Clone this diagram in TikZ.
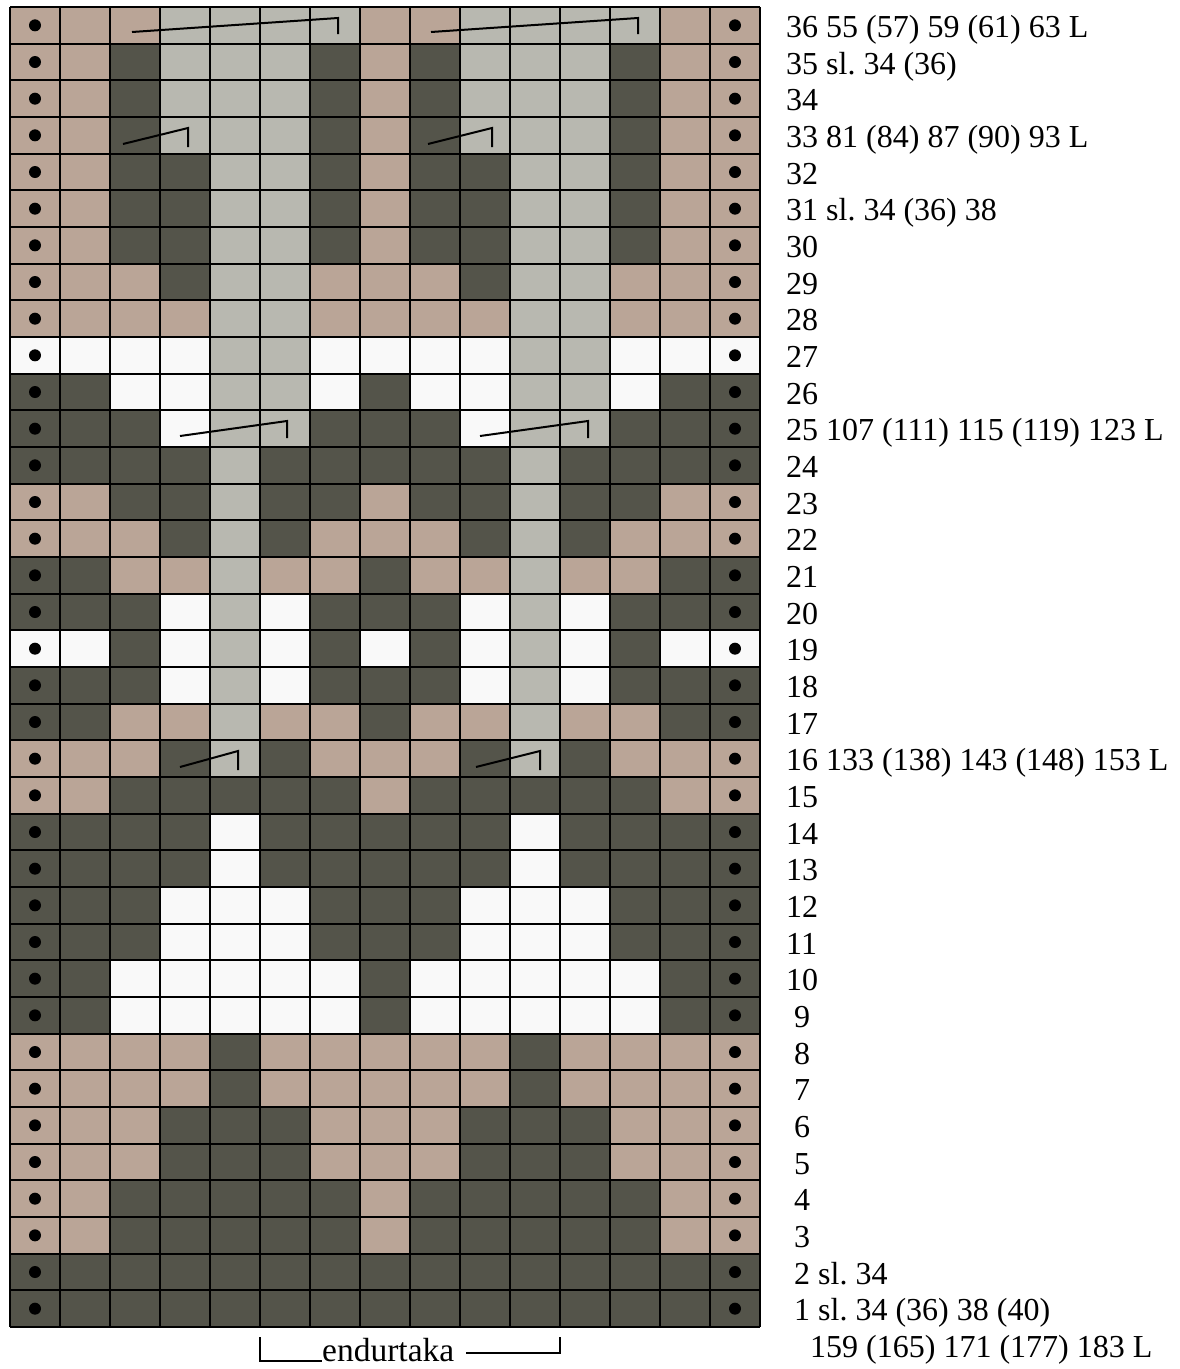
\documentclass[tikz,border=0pt]{standalone}
\usepackage{fontspec}
\setmainfont{Liberation Serif}
\frenchspacing
\definecolor{cT}{RGB}{186,165,151}
\definecolor{cD}{RGB}{84,84,74}
\definecolor{cG}{RGB}{184,184,176}
\definecolor{cW}{RGB}{249,249,249}
\tikzset{
  lab/.style={anchor=base west, inner sep=0pt, font=\fontsize{32}{38}\selectfont},
  decmark/.style={draw=black, line width=2pt},
  brk/.style={draw=black, line width=1.8pt}
}
\begin{document}
\begin{tikzpicture}[x=1pt,y=-1pt]
\useasboundingbox[fill=white] (0,0) rectangle (1179,1369);
\def\rh{36.6667}
\foreach \r/\row in {
36/{T,T,T,G,G,G,G,T,T,G,G,G,G,T,T},
35/{T,T,D,G,G,G,D,T,D,G,G,G,D,T,T},
34/{T,T,D,G,G,G,D,T,D,G,G,G,D,T,T},
33/{T,T,D,G,G,G,D,T,D,G,G,G,D,T,T},
32/{T,T,D,D,G,G,D,T,D,D,G,G,D,T,T},
31/{T,T,D,D,G,G,D,T,D,D,G,G,D,T,T},
30/{T,T,D,D,G,G,D,T,D,D,G,G,D,T,T},
29/{T,T,T,D,G,G,T,T,T,D,G,G,T,T,T},
28/{T,T,T,T,G,G,T,T,T,T,G,G,T,T,T},
27/{W,W,W,W,G,G,W,W,W,W,G,G,W,W,W},
26/{D,D,W,W,G,G,W,D,W,W,G,G,W,D,D},
25/{D,D,D,W,G,G,D,D,D,W,G,G,D,D,D},
24/{D,D,D,D,G,D,D,D,D,D,G,D,D,D,D},
23/{T,T,D,D,G,D,D,T,D,D,G,D,D,T,T},
22/{T,T,T,D,G,D,T,T,T,D,G,D,T,T,T},
21/{D,D,T,T,G,T,T,D,T,T,G,T,T,D,D},
20/{D,D,D,W,G,W,D,D,D,W,G,W,D,D,D},
19/{W,W,D,W,G,W,D,W,D,W,G,W,D,W,W},
18/{D,D,D,W,G,W,D,D,D,W,G,W,D,D,D},
17/{D,D,T,T,G,T,T,D,T,T,G,T,T,D,D},
16/{T,T,T,D,G,D,T,T,T,D,G,D,T,T,T},
15/{T,T,D,D,D,D,D,T,D,D,D,D,D,T,T},
14/{D,D,D,D,W,D,D,D,D,D,W,D,D,D,D},
13/{D,D,D,D,W,D,D,D,D,D,W,D,D,D,D},
12/{D,D,D,W,W,W,D,D,D,W,W,W,D,D,D},
11/{D,D,D,W,W,W,D,D,D,W,W,W,D,D,D},
10/{D,D,W,W,W,W,W,D,W,W,W,W,W,D,D},
9/{D,D,W,W,W,W,W,D,W,W,W,W,W,D,D},
8/{T,T,T,T,D,T,T,T,T,T,D,T,T,T,T},
7/{T,T,T,T,D,T,T,T,T,T,D,T,T,T,T},
6/{T,T,T,D,D,D,T,T,T,D,D,D,T,T,T},
5/{T,T,T,D,D,D,T,T,T,D,D,D,T,T,T},
4/{T,T,D,D,D,D,D,T,D,D,D,D,D,T,T},
3/{T,T,D,D,D,D,D,T,D,D,D,D,D,T,T},
2/{D,D,D,D,D,D,D,D,D,D,D,D,D,D,D},
1/{D,D,D,D,D,D,D,D,D,D,D,D,D,D,D}} {
  \pgfmathsetmacro{\yt}{7+(36-\r)*\rh}
  \foreach \c [count=\i] in \row {
    \pgfmathsetmacro{\xl}{10+(\i-1)*50}
    \fill[c\c] (\xl,\yt) rectangle ++(50,\rh);
  }
  \fill[black] (35,\yt+0.5*\rh) circle (6);
  \fill[black] (735,\yt+0.5*\rh) circle (6);
}
% grid lines
\foreach \i in {0,...,15} {
  \draw[line width=2pt] (10+\i*50,7) -- (10+\i*50,1327);
}
\foreach \j in {0,...,36} {
  \draw[line width=2pt] (10,7+\j*\rh) -- (760,7+\j*\rh);
}
% decrease marks
\draw[decmark] (132,32) -- (338,18) -- (338,34);
\draw[decmark] (431,32) -- (638,18) -- (638,34);
\draw[decmark] (123,144) -- (188,128) -- (188,147);
\draw[decmark] (428,144) -- (492,128) -- (492,147);
\draw[decmark] (180,436) -- (287,421) -- (287,438);
\draw[decmark] (480,436) -- (588,421) -- (588,438);
\draw[decmark] (180,767) -- (238,751) -- (238,770);
\draw[decmark] (476,767) -- (540,751) -- (540,770);
% row labels
\foreach \r/\t in {36/{36 55 (57) 59 (61) 63 L},35/{35 sl. 34 (36)},34/34,
  33/{33 81 (84) 87 (90) 93 L},32/32,31/{31 sl. 34 (36) 38},30/30,29/29,28/28,27/27,26/26,
  25/{25 107 (111) 115 (119) 123 L},24/24,23/23,22/22,21/21,20/20,19/19,18/18,17/17,
  16/{16 133 (138) 143 (148) 153 L},15/15,14/14,13/13,12/12,11/11,10/10} {
  \node[lab] (l\r) at (786,{7+(36.5-\r)*\rh+12}) {\t};
}
\foreach \r/\t in {9/9,8/8,7/7,6/6,5/5,4/4,3/3,2/{2 sl. 34},1/{1 sl. 34 (36) 38 (40)}} {
  \node[lab] (l\r) at (794,{7+(36.5-\r)*\rh+12}) {\t};
}
\node[lab] (l0) at (810,{7+(37.5-1)*\rh+12}) {159 (165) 171 (177) 183 L};
% repeat bracket
\node[lab, anchor=base west, font=\fontsize{33.5}{38}\selectfont] (rep) at (322,1361) {endurtaka};
\coordinate (b1) at (260,1337);
\coordinate (b2) at (260,1361);
\coordinate (b3) at (rep.base west);
\coordinate (b4) at (466,1353);
\coordinate (b5) at (560,1353);
\coordinate (b6) at (560,1337);
\draw[brk] (b1) -- (b2) -- (b3);
\draw[brk] (b4) -- (b5) -- (b6);
\end{tikzpicture}
\end{document}
